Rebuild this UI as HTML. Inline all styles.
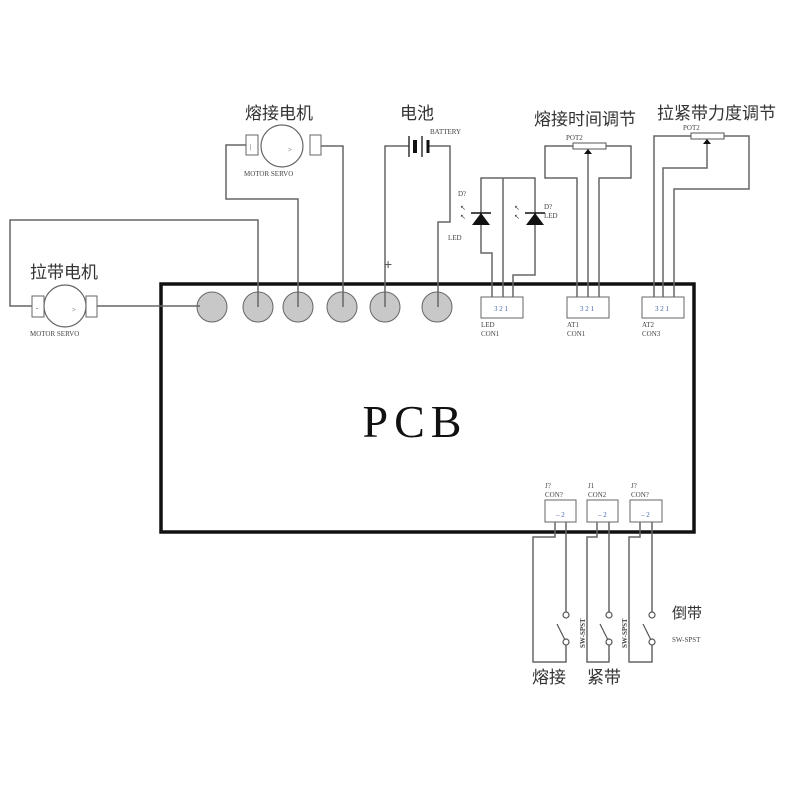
<!DOCTYPE html>
<html><head><meta charset="utf-8"><style>
html,body{margin:0;padding:0;background:#fff;}
svg{display:block;}
.w{fill:none;stroke:#666;stroke-width:1.5;}
.cj{font-family:"Liberation Sans","Noto Sans CJK SC",sans-serif;fill:#333;}
.sm{font-family:"Liberation Serif",serif;fill:#444;font-size:7px;}
</style></head><body>
<svg width="800" height="800" viewBox="0 0 800 800" xmlns="http://www.w3.org/2000/svg">
<rect x="161" y="284" width="533" height="248" fill="none" stroke="#111" stroke-width="3.5"/>
<text x="415" y="437" font-family="Liberation Serif,serif" font-size="46" text-anchor="middle" letter-spacing="6" fill="#111">PCB</text>
<g fill="#c8c8c8" stroke="#666" stroke-width="1">
<circle cx="212" cy="307" r="15"/><circle cx="258" cy="307" r="15"/><circle cx="298" cy="307" r="15"/>
<circle cx="342" cy="307" r="15"/><circle cx="385" cy="307" r="15"/><circle cx="437" cy="307" r="15"/>
</g>
<polyline class="w" points="33,306 10,306 10,220 258,220 258,307"/>
<line class="w" x1="97" y1="306" x2="200" y2="306"/>
<rect x="32" y="296" width="12" height="21" fill="#fff" stroke="#666"/>
<rect x="86" y="296" width="11" height="21" fill="#fff" stroke="#666"/>
<circle cx="65" cy="306" r="21" fill="#fff" stroke="#666" stroke-width="1.2"/>
<text x="36" y="310" class="sm">-</text><text x="72" y="312" class="sm">&gt;</text>
<text x="30" y="336" class="sm">MOTOR SERVO</text>
<text x="30" y="278" class="cj" font-size="17">拉带电机</text>
<polyline class="w" points="247,145 226,145 226,199 298,199 298,307"/>
<polyline class="w" points="321,146 343,146 343,307"/>
<rect x="246" y="135" width="12" height="20" fill="#fff" stroke="#666"/>
<rect x="310" y="135" width="11" height="20" fill="#fff" stroke="#666"/>
<circle cx="282" cy="146" r="21" fill="#fff" stroke="#666" stroke-width="1.2"/>
<text x="250" y="149" class="sm">|</text><text x="288" y="152" class="sm">&gt;</text>
<text x="244" y="176" class="sm">MOTOR SERVO</text>
<text x="245" y="119" class="cj" font-size="17">熔接电机</text>
<polyline class="w" points="409,146 385,146 385,307"/>
<polyline class="w" points="428,146 450,146 450,222 438,222 438,307"/>
<line x1="409" y1="136" x2="409" y2="157" stroke="#333" stroke-width="1.5"/>
<line x1="415" y1="140" x2="415" y2="153" stroke="#111" stroke-width="4"/>
<line x1="422" y1="136" x2="422" y2="157" stroke="#333" stroke-width="1.5"/>
<line x1="428" y1="140" x2="428" y2="153" stroke="#111" stroke-width="3"/>
<text x="430" y="134" class="sm">BATTERY</text>
<text x="400" y="119" class="cj" font-size="17">电池</text>
<text x="384" y="269" font-family="Liberation Sans,sans-serif" font-size="14" fill="#555">+</text>
<polyline class="w" points="492,297 492,253 481,253 481,178 535,178 535,275 513,275 513,297"/>
<line class="w" x1="503" y1="178" x2="503" y2="297"/>
<polygon points="472,225 490,225 481,213" fill="#111"/><line x1="471" y1="213" x2="491" y2="213" stroke="#111" stroke-width="1.5"/>
<polygon points="526,225 544,225 535,213" fill="#111"/><line x1="525" y1="213" x2="545" y2="213" stroke="#111" stroke-width="1.5"/>
<text x="458" y="196" class="sm">D?</text><text x="460" y="210" class="sm">↖</text><text x="460" y="219" class="sm">↖</text>
<text x="448" y="240" class="sm">LED</text>
<text x="514" y="210" class="sm">↖</text><text x="514" y="219" class="sm">↖</text>
<text x="544" y="209" class="sm">D?</text><text x="544" y="218" class="sm">LED</text>
<polyline class="w" points="573,146 545,146 545,178 577,178 577,297"/>
<polyline class="w" points="606,146 631,146 631,178 599,178 599,297"/>
<line class="w" x1="588" y1="152" x2="588" y2="297"/>
<rect x="573" y="143" width="33" height="6" fill="#fff" stroke="#555"/>
<polygon points="584,154 592,154 588,149" fill="#111"/>
<text x="566" y="140" class="sm" font-size="6">POT2</text>
<text x="534" y="125" class="cj" font-size="17">熔接时间调节</text>
<polyline class="w" points="691,136 654,136 654,297"/>
<polyline class="w" points="707,142 707,168 663,168 663,297"/>
<polyline class="w" points="723,136 749,136 749,189 674,189 674,297"/>
<rect x="691" y="133" width="33" height="6" fill="#fff" stroke="#555"/>
<polygon points="703,144 711,144 707,139" fill="#111"/>
<text x="683" y="130" class="sm" font-size="6">POT2</text>
<text x="657" y="119" class="cj" font-size="17">拉紧带力度调节</text>
<g fill="#fff" stroke="#666" stroke-width="1">
<rect x="481" y="297" width="42" height="21"/><rect x="567" y="297" width="42" height="21"/><rect x="642" y="297" width="42" height="21"/>
</g>
<g class="sm" font-size="7"><text x="494" y="311" fill="#46a">3 2 1</text><text x="580" y="311" fill="#46a">3 2 1</text><text x="655" y="311" fill="#46a">3 2 1</text></g>
<text x="481" y="327" class="sm">LED</text><text x="481" y="336" class="sm">CON1</text>
<text x="567" y="327" class="sm">AT1</text><text x="567" y="336" class="sm">CON1</text>
<text x="642" y="327" class="sm">AT2</text><text x="642" y="336" class="sm">CON3</text>
<g fill="#fff" stroke="#666" stroke-width="1">
<rect x="545" y="500" width="31" height="22"/><rect x="587" y="500" width="31" height="22"/><rect x="630" y="500" width="32" height="22"/>
</g>
<g class="sm" font-size="8"><text x="556" y="517" fill="#46a">– 2</text><text x="598" y="517" fill="#46a">– 2</text><text x="641" y="517" fill="#46a">– 2</text></g>
<text x="545" y="488" class="sm" font-size="6">J?</text><text x="545" y="497" class="sm" font-size="6">CON?</text>
<text x="588" y="488" class="sm" font-size="6">J1</text><text x="588" y="497" class="sm" font-size="6">CON2</text>
<text x="631" y="488" class="sm" font-size="6">J?</text><text x="631" y="497" class="sm" font-size="6">CON?</text>
<polyline class="w" points="555,522 555,537 533,537 533,662 566,662 566,645"/>
<line class="w" x1="566" y1="522" x2="566" y2="612"/>
<polyline class="w" points="597,522 597,537 587,537 587,662 609,662 609,645"/>
<line class="w" x1="609" y1="522" x2="609" y2="612"/>
<polyline class="w" points="640,522 640,537 629,537 629,662 652,662 652,645"/>
<line class="w" x1="652" y1="522" x2="652" y2="612"/>
<g fill="#fff" stroke="#555" stroke-width="1.2">
<circle cx="566" cy="615" r="3"/><circle cx="566" cy="642" r="3"/>
<circle cx="609" cy="615" r="3"/><circle cx="609" cy="642" r="3"/>
<circle cx="652" cy="615" r="3"/><circle cx="652" cy="642" r="3"/>
</g>
<g stroke="#555" stroke-width="1.2">
<line x1="565" y1="640" x2="557" y2="624"/><line x1="608" y1="640" x2="600" y2="624"/><line x1="651" y1="640" x2="643" y2="624"/>
</g>
<text transform="translate(585,648) rotate(-90)" class="sm" font-size="9" fill="#335" font-weight="bold">SW-SPST</text>
<text transform="translate(627,648) rotate(-90)" class="sm" font-size="9" fill="#335" font-weight="bold">SW-SPST</text>
<text x="672" y="618" class="cj" font-size="15">倒带</text>
<text x="672" y="642" class="sm">SW-SPST</text>
<text x="532" y="683" class="cj" font-size="17">熔接</text>
<text x="587" y="683" class="cj" font-size="17">紧带</text>
</svg>
</body></html>
